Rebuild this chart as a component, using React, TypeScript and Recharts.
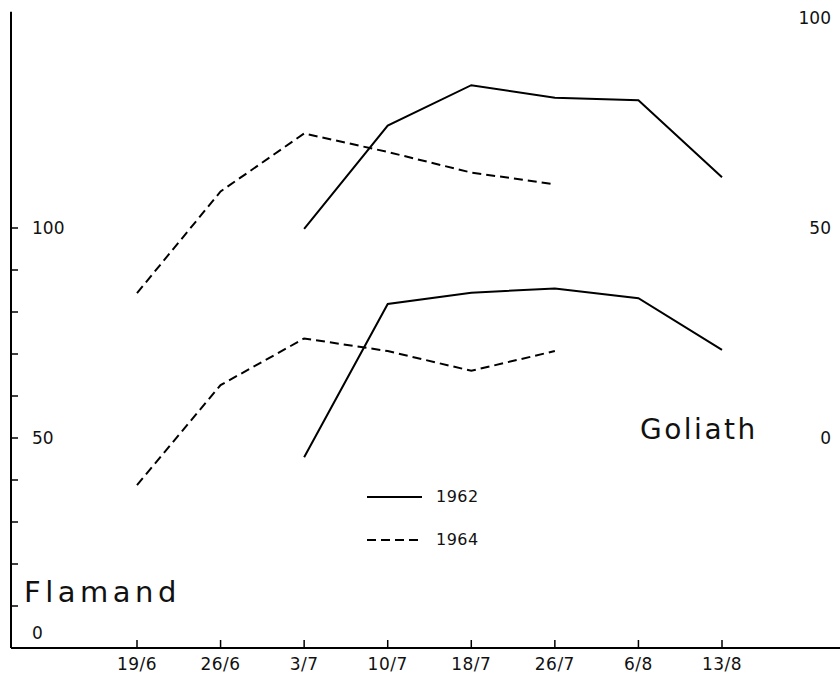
import React from "react";
import { LineChart, Line, XAxis, YAxis, Legend } from "recharts";

// dates of sampling
const dates = ["19/6", "26/6", "3/7", "10/7", "18/7", "26/7", "6/8", "13/8"];

// Flamand (left axis)
const flamand1962 = [null, null, 45.4, 81.9, 84.6, 85.6, 83.3, 71.0];
const flamand1964 = [38.8, 62.6, 73.7, 70.7, 66.0, 70.7, null, null];

// Goliath (right axis)
const goliath1962 = [null, null, 49.8, 74.4, 84.0, 81.0, 80.4, 62.1];
const goliath1964 = [34.5, 58.7, 72.5, 68.1, 63.2, 60.4, null, null];

const leftTicks = [0, 10, 20, 30, 40, 50, 60, 70, 80, 90, 100];
const leftLabels = [0, 50, 100];
const rightTicks = [0, 50, 100];
const years = ["1962", "1964"];

const data = dates.map((d, i) => ({
  date: d,
  f62: flamand1962[i],
  f64: flamand1964[i],
  g62: goliath1962[i],
  g64: goliath1964[i],
}));

const FONT = "'DejaVu Sans', sans-serif";
const DASH = "9 5";

const XTick = ({ x, y, payload }: any) => (
  <g>
    <line x1={x} y1={y} x2={x} y2={y - 8} stroke="#000" strokeWidth={1.5} />
    <text x={x} y={y + 22} textAnchor="middle" fontSize={17} letterSpacing={0.5} fontFamily={FONT} fill="#111">
      {payload.value}
    </text>
  </g>
);

const LeftTick = ({ y, payload }: any) => {
  const v = payload.value;
  return (
    <g>
      <line x1={11} y1={y} x2={18} y2={y} stroke="#000" strokeWidth={1.5} />
      {leftLabels.includes(v) && (
        <text
          x={32}
          y={v === 0 ? y - 15 : y}
          dy={6}
          fontSize={17}
          fontFamily={FONT}
          fill="#111"
        >
          {v}
        </text>
      )}
    </g>
  );
};

const RightTick = ({ y, payload }: any) => (
  <text x={831} y={y} dy={6} textAnchor="end" fontSize={17} fontFamily={FONT} fill="#111">
    {payload.value}
  </text>
);

const LegendContent = ({ payload }: any) => (
  <div>
    {(payload || [])
      .filter((entry: any) => years.includes(entry.value))
      .map((entry: any) => (
        <div key={entry.value} style={{ display: "flex", alignItems: "center", height: 43 }}>
          <svg width={58} height={6}>
            <line
              x1={1}
              y1={3}
              x2={56}
              y2={3}
              stroke="#000"
              strokeWidth={2}
              strokeDasharray={entry.value === "1964" ? DASH : undefined}
            />
          </svg>
          <span style={{ marginLeft: 12, fontSize: 16, letterSpacing: 0.5, fontFamily: FONT, color: "#111" }}>
            {entry.value}
          </span>
        </div>
      ))}
  </div>
);

export default function App() {
  return (
    <div style={{ position: "absolute", left: 0, top: 0, width: 840, height: 685, background: "#fff" }}>
      <LineChart
        width={840}
        height={685}
        data={data}
        margin={{ top: 11.7, right: -1, bottom: 7, left: 0 }}
      >
        <XAxis
          dataKey="date"
          height={30}
          padding={{ left: 126, right: 118 }}
          axisLine={{ stroke: "#000", strokeWidth: 2 }}
          tickLine={false}
          tickSize={0}
          tickMargin={0}
          tick={<XTick />}
          interval={0}
        />
        <YAxis
          yAxisId="left"
          width={11}
          domain={[0, 151.5]}
          ticks={leftTicks}
          allowDataOverflow
          axisLine={{ stroke: "#000", strokeWidth: 2 }}
          tickLine={false}
          tickSize={0}
          tickMargin={0}
          tick={<LeftTick />}
          interval={0}
        />
        <YAxis
          yAxisId="right"
          orientation="right"
          width={1}
          domain={[-50, 101.5]}
          ticks={rightTicks}
          allowDataOverflow
          axisLine={false}
          tickLine={false}
          tickSize={0}
          tickMargin={0}
          tick={<RightTick />}
          interval={0}
        />
        <Legend
          layout="vertical"
          align="center"
          verticalAlign="middle"
          wrapperStyle={{ left: 366, top: 475, width: 140 }}
          content={<LegendContent />}
        />
        <Line yAxisId="left" dataKey="f62" name="1962" stroke="#000" strokeWidth={2} dot={false} isAnimationActive={false} />
        <Line yAxisId="left" dataKey="f64" name="1964" stroke="#000" strokeWidth={2} strokeDasharray={DASH} dot={false} isAnimationActive={false} />
        <Line yAxisId="right" dataKey="g62" name="Goliath 1962" legendType="none" stroke="#000" strokeWidth={2} dot={false} isAnimationActive={false} />
        <Line yAxisId="right" dataKey="g64" name="Goliath 1964" legendType="none" stroke="#000" strokeWidth={2} strokeDasharray={DASH} dot={false} isAnimationActive={false} />
      </LineChart>
      <div style={{ position: "absolute", left: 24, top: 575, fontSize: 29, letterSpacing: 4.5, fontFamily: FONT, color: "#111" }}>
        Flamand
      </div>
      <div style={{ position: "absolute", left: 640, top: 413, fontSize: 28, letterSpacing: 2.5, fontFamily: FONT, color: "#111" }}>
        Goliath
      </div>
    </div>
  );
}
